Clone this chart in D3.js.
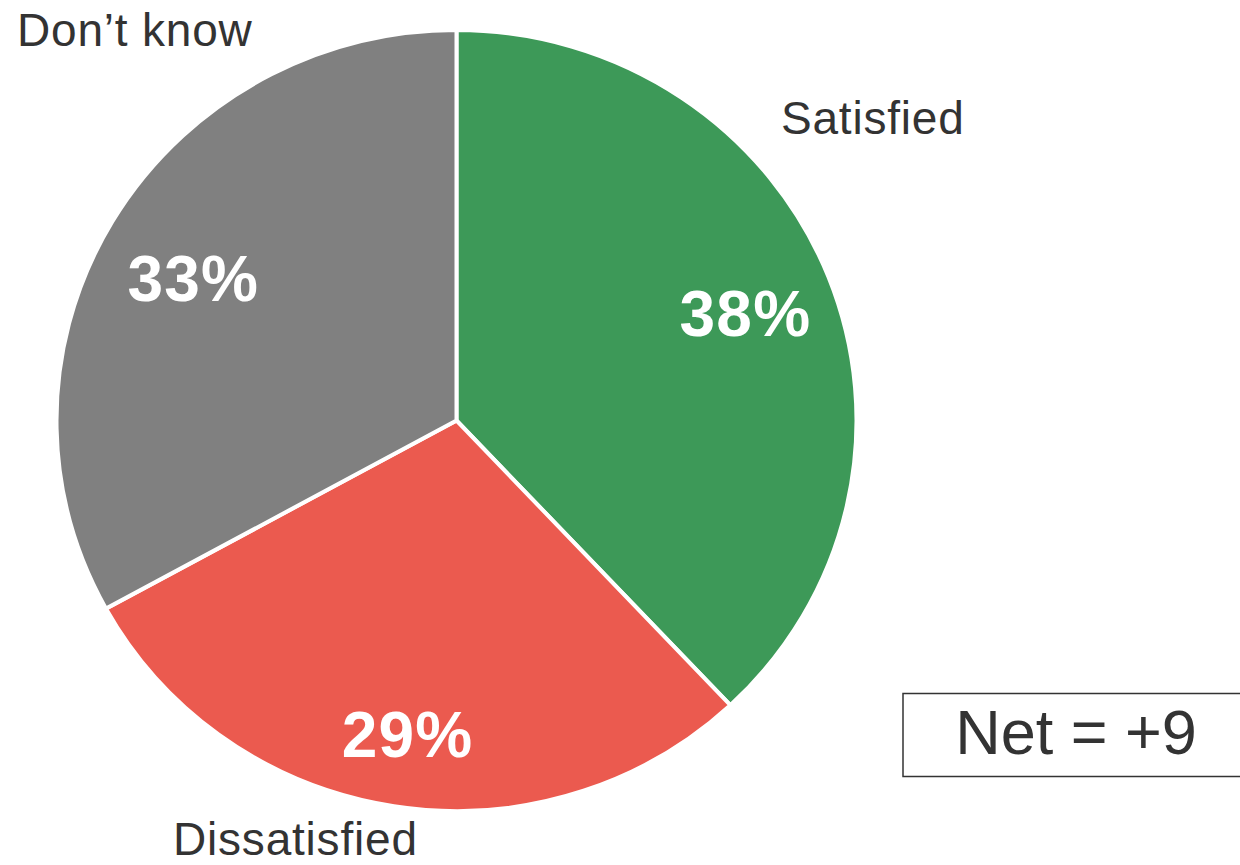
<!DOCTYPE html>
<html>
<head>
<meta charset="utf-8">
<script src="https://cdn.jsdelivr.net/npm/d3@7"></script>
<style>
  body { margin: 0; background: #fff; }
  svg { display: block; }
  text { font-family: "Liberation Sans", Arial, Helvetica, sans-serif; }
</style>
</head>
<body>
<div id="chart"></div>
<script>
  // data
  var categories = ['Satisfied', 'Dissatisfied', 'Don\u2019t know'];
  var values = [38, 29, 33];
  var colors = ['#3d9958', '#eb5a4f', '#808080'];
  var netLabel = 'Net = +9';

  var width = 1240;
  var height = 865;

  var svg = d3.select('#chart')
    .append('svg')
    .attr('width', width)
    .attr('height', height);

  var cx = 456.5, cy = 420.5;
  var rx = 400, ry = 390.5;

  var pie = d3.pie().sort(null).value(function(d) { return d; });
  var arcs = pie(values);

  var arc = d3.arc().innerRadius(0).outerRadius(rx);
  var labelArc = d3.arc().innerRadius(0).outerRadius(rx * 1.5); // centroid at 300

  var g = svg.append('g')
    .attr('transform', 'translate(' + cx + ',' + cy + ') scale(1,' + (ry / rx) + ')');

  g.selectAll('path')
    .data(arcs)
    .enter()
    .append('path')
    .attr('d', arc)
    .attr('fill', function(d, i) { return colors[i]; })
    .attr('stroke', '#fff')
    .attr('stroke-width', 4)
    .attr('vector-effect', 'non-scaling-stroke');

  // small nudges so the percent labels sit where the original has them
  var pctNudge = [[10, 0], [-2, 24], [-5, 7]];

  svg.selectAll('.pct')
    .data(arcs)
    .enter()
    .append('text')
    .attr('class', 'pct')
    .attr('x', function(d, i) { return cx + labelArc.centroid(d)[0] + pctNudge[i][0]; })
    .attr('y', function(d, i) { return cy + labelArc.centroid(d)[1] * ry / rx + pctNudge[i][1]; })
    .attr('dy', '0.36em')
    .attr('text-anchor', 'middle')
    .attr('fill', '#fff')
    .attr('font-weight', 'bold')
    .attr('font-size', 64)
    .attr('letter-spacing', 1.2)
    .text(function(d) { return d.data + '%'; });

  // category labels outside the pie
  var namePos = [[781, 134, 'start'], [173, 855, 'start'], [17, 46, 'start']];

  svg.selectAll('.name')
    .data(categories)
    .enter()
    .append('text')
    .attr('class', 'name')
    .attr('x', function(d, i) { return namePos[i][0]; })
    .attr('y', function(d, i) { return namePos[i][1]; })
    .attr('text-anchor', function(d, i) { return namePos[i][2]; })
    .attr('fill', '#333')
    .attr('font-size', 46)
    .attr('letter-spacing', 0.8)
    .text(function(d) { return d; });

  // net box
  svg.append('rect')
    .attr('x', 903)
    .attr('y', 693.5)
    .attr('width', 400)
    .attr('height', 83)
    .attr('fill', 'none')
    .attr('stroke', '#333')
    .attr('stroke-width', 1.5);

  svg.append('text')
    .attr('x', 1076)
    .attr('y', 754)
    .attr('text-anchor', 'middle')
    .attr('fill', '#333')
    .attr('font-size', 63)
    .text(netLabel);
</script>
</body>
</html>
